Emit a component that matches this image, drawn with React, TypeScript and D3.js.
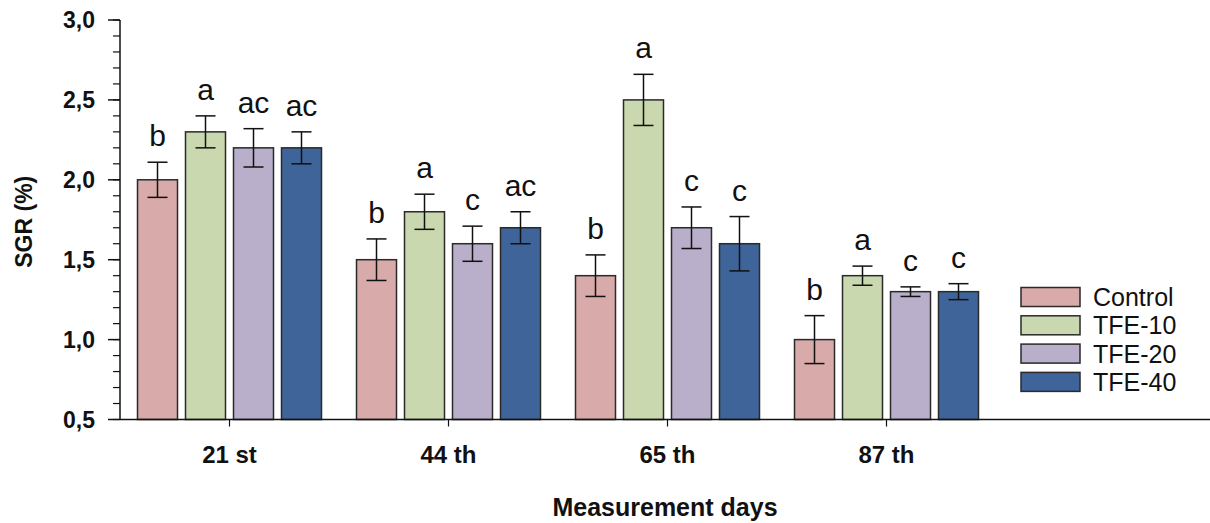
import React from "react";
import * as d3 from "d3";

const categories = ["21 st", "44 th", "65 th", "87 th"];
const series = ["Control", "TFE-10", "TFE-20", "TFE-40"];
const colors = ["#D8AAA9", "#C9D8AE", "#B9AFCA", "#3E6499"];

const controlValues = [2.0, 1.5, 1.4, 1.0];
const tfe10Values = [2.3, 1.8, 2.5, 1.4];
const tfe20Values = [2.2, 1.6, 1.7, 1.3];
const tfe40Values = [2.2, 1.7, 1.6, 1.3];

const controlErr = [0.11, 0.13, 0.13, 0.15];
const tfe10Err = [0.1, 0.11, 0.16, 0.06];
const tfe20Err = [0.12, 0.11, 0.13, 0.03];
const tfe40Err = [0.1, 0.1, 0.17, 0.05];

const controlLetters = ["b", "b", "b", "b"];
const tfe10Letters = ["a", "a", "a", "a"];
const tfe20Letters = ["ac", "c", "c", "c"];
const tfe40Letters = ["ac", "ac", "c", "c"];

const yTicks = [0.5, 1.0, 1.5, 2.0, 2.5, 3.0];

const values = [controlValues, tfe10Values, tfe20Values, tfe40Values];
const errs = [controlErr, tfe10Err, tfe20Err, tfe40Err];
const letters = [controlLetters, tfe10Letters, tfe20Letters, tfe40Letters];

const W = 1210;
const H = 523;
const axisX = 120;
const axisY = 419.5;
const slot = 219;

export default function App() {
  const y = d3.scaleLinear().domain([0.5, 3.0]).range([axisY, 20]);
  const x0 = d3
    .scaleBand<string>()
    .domain(categories)
    .range([axisX, axisX + slot * categories.length])
    .paddingInner(0)
    .paddingOuter(0);
  const x1 = d3
    .scaleBand<string>()
    .domain(series)
    .range([-92, 92])
    .paddingInner(1 / 6)
    .paddingOuter(0);
  const minor = d3.range(0.5, 3.0001, 0.1).map((v) => Math.round(v * 10) / 10);
  const font = "Arial, 'Liberation Sans', sans-serif";

  return (
    <svg
      width={W}
      height={H}
      style={{ position: "absolute", left: 0, top: 0, background: "#fff" }}
      fontFamily={font}
    >
      {/* bars */}
      {categories.map((c, ci) => {
        const cx = (x0(c) as number) + x0.bandwidth() / 2;
        return (
          <g key={c}>
            {series.map((s, si) => {
              const v = values[si][ci];
              const e = errs[si][ci];
              const bx = cx + (x1(s) as number);
              const bw = x1.bandwidth();
              const mx = bx + bw / 2;
              return (
                <g key={s}>
                  <rect
                    x={bx}
                    y={y(v)}
                    width={bw}
                    height={axisY - y(v)}
                    fill={colors[si]}
                    stroke="#2a2a2a"
                    strokeWidth={1.5}
                  />
                  <line x1={mx} x2={mx} y1={y(v + e)} y2={y(v - e)} stroke="#111" strokeWidth={1.5} />
                  <line x1={mx - 10} x2={mx + 10} y1={y(v + e)} y2={y(v + e)} stroke="#111" strokeWidth={1.5} />
                  <line x1={mx - 10} x2={mx + 10} y1={y(v - e)} y2={y(v - e)} stroke="#111" strokeWidth={1.5} />
                  <text x={mx} y={y(v + e) - 16} textAnchor="middle" fontSize={30} fill="#111">
                    {letters[si][ci]}
                  </text>
                </g>
              );
            })}
          </g>
        );
      })}

      {/* y axis */}
      <line x1={axisX} x2={axisX} y1={y(3.0)} y2={axisY} stroke="#111" strokeWidth={1.5} />
      {minor.map((v) => (
        <line key={"m" + v} x1={axisX - 7} x2={axisX} y1={y(v)} y2={y(v)} stroke="#111" strokeWidth={1.2} />
      ))}
      {yTicks.map((v) => (
        <g key={"t" + v}>
          <line x1={axisX - 12} x2={axisX} y1={y(v)} y2={y(v)} stroke="#111" strokeWidth={1.5} />
          <text
            x={95}
            y={y(v)}
            dy="0.36em"
            textAnchor="end"
            fontSize={23}
            fontWeight="bold"
            fill="#111"
          >
            {v.toFixed(1).replace(".", ",")}
          </text>
        </g>
      ))}
      <text
        transform={`translate(32, ${(y(3.0) + axisY) / 2 + 2}) rotate(-90)`}
        textAnchor="middle"
        fontSize={23}
        fontWeight="bold"
        fill="#111"
      >
        SGR (%)
      </text>

      {/* x axis */}
      <line x1={axisX} x2={W} y1={axisY} y2={axisY} stroke="#111" strokeWidth={1.5} />
      {categories.map((c) => {
        const cx = (x0(c) as number) + x0.bandwidth() / 2;
        return (
          <g key={"x" + c}>
            <line x1={cx} x2={cx} y1={axisY} y2={axisY + 7} stroke="#111" strokeWidth={1.2} />
            <text x={cx} y={463} textAnchor="middle" fontSize={24} fontWeight="bold" fill="#111">
              {c}
            </text>
          </g>
        );
      })}
      <text x={(axisX + W) / 2} y={516} textAnchor="middle" fontSize={25} fontWeight="bold" fill="#111">
        Measurement days
      </text>

      {/* legend */}
      {series.map((s, si) => (
        <g key={"l" + s} transform={`translate(1021, ${287.5 + si * 28.3})`}>
          <rect width={59} height={19} fill={colors[si]} stroke="#2a2a2a" strokeWidth={1.5} />
          <text x={72} y={18.5} fontSize={25} fill="#111">
            {s}
          </text>
        </g>
      ))}
    </svg>
  );
}
